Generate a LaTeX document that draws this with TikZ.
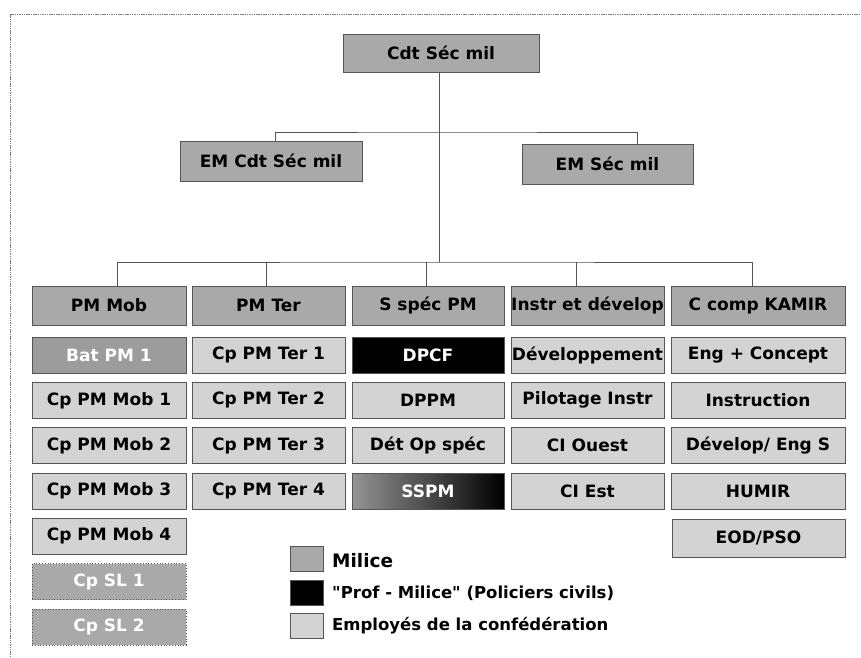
\documentclass[tikz,border=0pt]{standalone}
\usepackage{fontspec}
\setmainfont{DejaVu Sans}
\newfontfamily\plainfont{DejaVu Sans}

\definecolor{milgray}{HTML}{A9A9A9}
\definecolor{batgray}{HTML}{9C9C9C}
\definecolor{empgray}{HTML}{D3D3D3}
\definecolor{linegray}{HTML}{555555}

\tikzset{
  box/.style={draw=linegray, line width=0.8pt, minimum height=36, inner sep=0pt,
    font=\bfseries\fontsize{17}{19}\selectfont},
  milice/.style={box, fill=milgray},
  emp/.style={box, fill=empgray},
  prof/.style={box, fill=black, text=white},
  reserve/.style={box, fill=milgray, text=white, dotted},
  link/.style={draw=linegray, line width=0.8pt},
  legsq/.style={draw=linegray, line width=0.6pt, minimum width=33, minimum height=25, inner sep=0pt},
  legtxt/.style={anchor=west, inner sep=0pt, font=\plainfont\bfseries\fontsize{16.5}{18}\selectfont},
}

\begin{document}
\begin{tikzpicture}[x=1pt,y=-1pt]
   \useasboundingbox (0,0) rectangle (861,657);
   \draw[gray, line width=0.8pt, dash pattern=on 1.5pt off 0.8pt] (10,14) -- (861,14);
   \draw[gray, line width=0.8pt, dash pattern=on 1.5pt off 0.8pt] (10,14) -- (10,657);

   % top
   \node[milice, minimum width=196, minimum height=38] (cdt) at (441,53) {Cdt Séc mil};
   \node[milice, minimum width=182, minimum height=40] (emcdt) at (271,161) {EM Cdt Séc mil};
   \node[milice, minimum width=171, minimum height=40] (emsec) at (607.5,164) {EM Séc mil};

   % columns heads
   \node[milice, minimum width=154, minimum height=39] (pmmob) at (109,305.5) {PM Mob};
   \node[milice, minimum width=153, minimum height=39] (pmter) at (268.5,305.5) {PM Ter};
   \node[milice, minimum width=152, minimum height=39] (sspec) at (428,305.5) {S spéc PM};
   \node[milice, minimum width=153, minimum height=39] (instr) at (587.5,305.5) {Instr et dévelop};
   \node[milice, minimum width=174, minimum height=39] (kamir) at (758,305.5) {C comp KAMIR};

   % PM Mob
   \node[box, fill=batgray, text=white, minimum width=154] (bat1) at (109,355) {Bat PM 1};
   \node[emp, minimum width=154] (mob1) at (109,400.3) {Cp PM Mob 1};
   \node[emp, minimum width=154] (mob2) at (109,445.6) {Cp PM Mob 2};
   \node[emp, minimum width=154] (mob3) at (109,491) {Cp PM Mob 3};
   \node[emp, minimum width=154] (mob4) at (109,536) {Cp PM Mob 4};
   \node[reserve, minimum width=154] (sl1) at (109,581.5) {Cp SL 1};
   \node[reserve, minimum width=154] (sl2) at (109,627) {Cp SL 2};

   % PM Ter
   \node[emp, minimum width=153] (ter1) at (268.5,355) {Cp PM Ter 1};
   \node[emp, minimum width=153] (ter2) at (268.5,400.3) {Cp PM Ter 2};
   \node[emp, minimum width=153] (ter3) at (268.5,445.6) {Cp PM Ter 3};
   \node[emp, minimum width=153] (ter4) at (268.5,491) {Cp PM Ter 4};

   % S spec PM
   \node[prof, minimum width=152] (dpcf) at (428,355) {DPCF};
   \node[emp, minimum width=152] (dppm) at (428,400.3) {DPPM};
   \node[emp, minimum width=152] (detop) at (428,445.6) {Dét Op spéc};
   \node[box, left color=black!42, middle color=black!88, right color=black, text=white, minimum width=152] (sspm) at (428,491) {SSPM};

   % Instr et develop
   \node[emp, minimum width=153] (devel) at (587.5,355) {Développement};
   \node[emp, minimum width=153] (pilot) at (587.5,400.3) {Pilotage Instr};
   \node[emp, minimum width=153] (ciouest) at (587.5,445.6) {CI Ouest};
   \node[emp, minimum width=153] (ciest) at (587.5,491) {CI Est};

   % C comp KAMIR
   \node[emp, minimum width=174] (engc) at (758,355) {Eng + Concept};
   \node[emp, minimum width=174] (instruc) at (758,400.3) {Instruction};
   \node[emp, minimum width=174] (engs) at (758,445.6) {Dévelop/ Eng S};
   \node[emp, minimum width=174] (humir) at (758,491) {HUMIR};
   \node[emp, minimum width=173, minimum height=38] (eod) at (758.5,538) {EOD/PSO};

   % lines
   \coordinate (busa) at (439,132);
   \coordinate (busb) at (439,262);
   \path[link] ([xshift=-2pt]cdt.south) -- (busb);
   \path[link] ([xshift=4pt]emcdt.north) |- (busa) -| ([xshift=29.5pt]emsec.north);
   \path[link] ([xshift=8pt]pmmob.north) |- (busb) -| ([xshift=-6pt]kamir.north);
   \path[link] ([xshift=-2.5pt]pmter.north) -- ++(0,-24);
   \path[link] ([xshift=-1.5pt]sspec.north) -- ++(0,-24);
   \path[link] ([xshift=-11.5pt]instr.north) -- ++(0,-24);

   % legend
   \node[legsq, fill=milgray] (lmil) at (306.5,559) {};
   \node[legsq, fill=black] (lprof) at (306.5,593) {};
   \node[legsq, fill=empgray] (lemp) at (306.5,625.5) {};
   \node[legtxt, font=\plainfont\bfseries\fontsize{18.5}{20}\selectfont] (tmil) at (332,561) {Milice};
   \node[legtxt] (tprof) at (332,593) {"Prof - Milice" (Policiers civils)};
   \node[legtxt] (temp) at (332,626) {Employés de la confédération};
\end{tikzpicture}
\end{document}
